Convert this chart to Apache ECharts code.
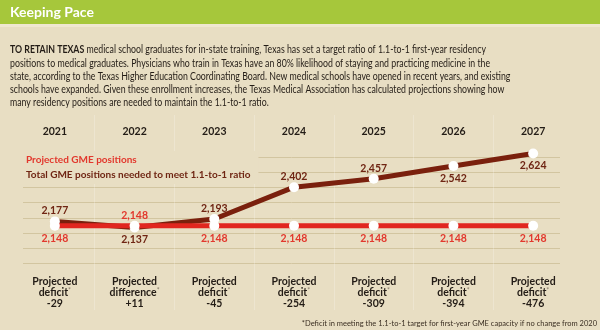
<!DOCTYPE html>
<html>
<head>
<meta charset="utf-8">
<script src="https://cdn.jsdelivr.net/npm/echarts@6/dist/echarts.min.js"></script>
<style>
  html, body { margin: 0; padding: 0; background: #e8dec3; }
  #chart { width: 600px; height: 330px; }
</style>
</head>
<body>
<div id="chart"></div>
<script>
// ---- data ----
const years = ['2021', '2022', '2023', '2024', '2025', '2026', '2027'];
const projectedPositions = [2148, 2148, 2148, 2148, 2148, 2148, 2148];
const neededPositions = [2177, 2137, 2193, 2402, 2457, 2542, 2624];
const gapKinds = ['deficit', 'difference', 'deficit', 'deficit', 'deficit', 'deficit', 'deficit'];
const seriesNames = ['Projected GME positions', 'Total GME positions needed to meet 1.1-to-1 ratio'];
const guideTicks = [1900, 2000, 2100, 2200, 2300, 2400, 2500, 2600];

const headline = 'Keeping Pace';
const introLines = [
  '{b|TO RETAIN TEXAS} medical school graduates for in-state training, Texas has set a target ratio of 1.1-to-1 first-year residency',
  'positions to medical graduates. Physicians who train in Texas have an 80% likelihood of staying and practicing medicine in the',
  'state, according to the Texas Higher Education Coordinating Board. New medical schools have opened in recent years, and existing',
  'schools have expanded. Given these enrollment increases, the Texas Medical Association has calculated projections showing how',
  'many residency positions are needed to maintain the 1.1-to-1 ratio.'
];
const footnote = '*Deficit in meeting the 1.1-to-1 target for first-year GME capacity if no change from 2020';

// ---- styling ----
const RED = '#e1261f';
const RED_TEXT = '#e2382d';
const BROWN = '#7a200d';
const BROWN_TEXT = '#6f2513';
const INK = '#231c16';
const FONT = 'Lato';

// shared vertical scale for the plot and its guide lines
const PLOT_TOP = 115, PLOT_BOTTOM = 310;
const Y_MIN = 1594, Y_MAX = 2877;
const pxPerUnit = (PLOT_BOTTOM - PLOT_TOP) / (Y_MAX - Y_MIN);
const yPix = v => PLOT_TOP + (Y_MAX - v) * pxPerUnit;
const guideMin = guideTicks[0], guideMax = guideTicks[guideTicks.length - 1];

// label sides for the "needed" line; the flat line's label goes opposite to the gap
const neededSide = ['top', 'bottom', 'top', 'top', 'top', 'bottom', 'bottom'];

const fmt = v => v.toLocaleString('en-US');
const gapText = i => {
  const d = projectedPositions[i] - neededPositions[i];
  return (d > 0 ? '+' : '') + d;
};

const chart = echarts.init(document.getElementById('chart'), null, { renderer: 'canvas' });

chart.setOption({
  animation: false,
  backgroundColor: '#e8dec3',
  textStyle: { fontFamily: FONT },
  graphic: [
    { type: 'rect', z: 0, shape: { x: 0, y: 0, width: 600, height: 24 }, style: { fill: '#a6c73b' } },
    { type: 'rect', z: 0, shape: { x: 0, y: 24, width: 600, height: 3 }, style: { fill: '#efe7d1' } },
    {
      type: 'text', x: 10, y: 12,
      style: { text: headline, fill: '#ffffff', font: 'bold 14px Lato', textVerticalAlign: 'middle' }
    },
    {
      type: 'text', x: 10, y: 43.5, scaleX: 0.835,
      style: {
        text: introLines.join('\n'),
        fill: INK, fontFamily: FONT, fontSize: 10.5, lineHeight: 13.2,
        textVerticalAlign: 'top',
        rich: { b: { fontWeight: 'bold', fontFamily: FONT, fontSize: 10.5, lineHeight: 13.2, fill: INK } }
      }
    },
    {
      type: 'text', x: 597, y: 324,
      style: { text: footnote, fill: '#3a2e22', fontFamily: FONT, fontSize: 7.5, textAlign: 'right', textVerticalAlign: 'middle' }
    }
  ],
  legend: {
    orient: 'vertical',
    left: 21, top: 151,
    padding: [3, 8, 3, 0],
    backgroundColor: '#e8dec3',
    itemWidth: 0, itemHeight: 12, itemGap: 3,
    selectedMode: false,
    textStyle: { fontFamily: FONT, fontWeight: 'bold', fontSize: 10 },
    data: [
      { name: seriesNames[0], icon: 'rect', textStyle: { color: RED_TEXT } },
      { name: seriesNames[1], icon: 'rect', textStyle: { color: BROWN_TEXT } }
    ]
  },
  grid: [
    { left: 15, right: 27, top: PLOT_TOP, height: PLOT_BOTTOM - PLOT_TOP },
    { left: 23, right: 40, top: yPix(guideMax), height: (guideMax - guideMin) * pxPerUnit }
  ],
  xAxis: [
    {
      type: 'category', gridIndex: 0, position: 'bottom', data: years, boundaryGap: true,
      axisLine: { show: false }, axisTick: { show: false },
      splitLine: {
        show: true, interval: 0, showMinLine: false, showMaxLine: false,
        lineStyle: { color: 'rgba(255,255,255,0.22)', width: 1 }
      },
      axisLabel: {
        inside: true, margin: 1, interval: 0,
        formatter: (v, i) => '{t|Projected}\n{t|' + gapKinds[i] + '}{s|*}\n{t|' + gapText(i) + '}',
        rich: {
          t: { fontFamily: FONT, fontWeight: 'bold', fontSize: 10.5, lineHeight: 11, color: INK },
          s: { fontFamily: FONT, fontSize: 7, lineHeight: 11, color: '#8a7d6b', verticalAlign: 'top' }
        }
      }
    },
    {
      type: 'category', gridIndex: 0, position: 'top', data: years, boundaryGap: true,
      axisLine: { show: false }, axisTick: { show: false }, splitLine: { show: false },
      axisLabel: {
        inside: true, margin: 11, interval: 0,
        fontFamily: FONT, fontWeight: 'bold', fontSize: 10.5, color: INK
      }
    },
    { type: 'value', gridIndex: 1, show: false, min: 0, max: 1 }
  ],
  yAxis: [
    { type: 'value', gridIndex: 0, min: Y_MIN, max: Y_MAX, show: false },
    {
      type: 'value', gridIndex: 1, min: guideMin, max: guideMax, interval: 100,
      axisLine: { show: false }, axisTick: { show: false }, axisLabel: { show: false },
      splitLine: { show: true, lineStyle: { color: '#d2c5a0', width: 1 } }
    }
  ],
  series: [
    {
      name: seriesNames[1], type: 'line', xAxisIndex: 0, yAxisIndex: 0, z: 3,
      data: neededPositions.map((v, i) => ({
        value: v,
        label: { position: neededSide[i], distance: neededSide[i] === 'top' ? 0 : 2 }
      })),
      symbol: 'circle', symbolSize: 10,
      itemStyle: { color: '#ffffff' },
      lineStyle: { color: BROWN, width: 5 },
      label: {
        show: true, formatter: p => fmt(p.value),
        fontFamily: FONT, fontWeight: 'bold', fontSize: 10.5, color: BROWN_TEXT
      },
      emphasis: { disabled: true }
    },
    {
      name: seriesNames[0], type: 'line', xAxisIndex: 0, yAxisIndex: 0, z: 4,
      data: projectedPositions.map((v, i) => {
        const side = neededPositions[i] < v ? 'top' : 'bottom';
        return { value: v, label: { position: side, distance: side === 'top' ? 0 : 2 } };
      }),
      symbol: 'circle', symbolSize: 10,
      itemStyle: { color: '#ffffff' },
      lineStyle: { color: RED, width: 5 },
      label: {
        show: true, formatter: p => fmt(p.value),
        fontFamily: FONT, fontWeight: 'bold', fontSize: 10.5, color: RED_TEXT
      },
      emphasis: { disabled: true }
    }
  ]
});
</script>
</body>
</html>
